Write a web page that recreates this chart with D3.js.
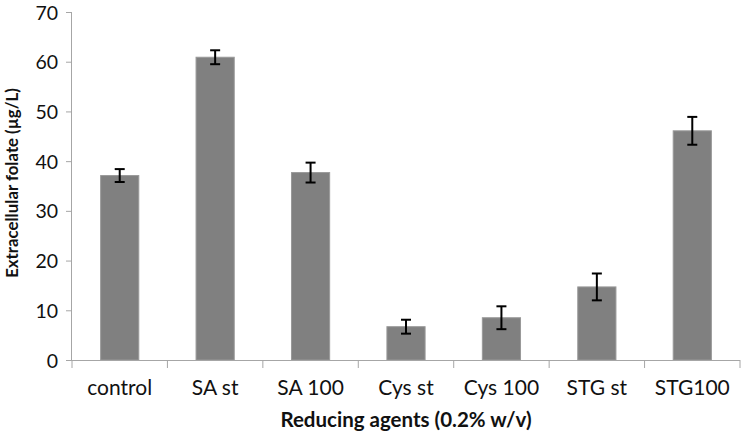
<!DOCTYPE html>
<html><head><meta charset="utf-8">
<script src="https://cdn.jsdelivr.net/npm/d3@7"></script>
<style>body{margin:0;background:#fff}svg{display:block}</style>
</head><body>
<svg id="c" width="742" height="434"></svg>
<script>
const categories = ["control","SA st","SA 100","Cys st","Cys 100","STG st","STG100"];
const values = [37.1, 60.9, 37.7, 6.7, 8.5, 14.7, 46.1];
const errors = [1.3, 1.4, 2.0, 1.4, 2.3, 2.7, 2.8];
const yTicks = [0,10,20,30,40,50,60,70];
const xTitle = "Reducing agents (0.2% w/v)";
const yTitle = "Extracellular folate (\u00b5g/L)";

const svg = d3.select("#c");
const font = "Lato, 'Open Sans', sans-serif";
const L = 72, R = 740, T = 12, B = 360;
const x = d3.scaleBand().domain(categories).range([L, R]).padding(0);
const y = d3.scaleLinear().domain([0,70]).range([B, T]);
const axisColor = "#a6a6a6";
const textColor = "#111";

// y axis
const ya = svg.append("g").attr("transform",`translate(${L},0)`)
  .call(d3.axisLeft(y).tickValues(yTicks).tickSize(6).tickPadding(8).tickFormat(d3.format("d")));
ya.select(".domain").attr("stroke",axisColor).attr("d",`M-0.5,${T}V${B}`);
ya.selectAll(".tick line").attr("stroke",axisColor);
ya.selectAll(".tick text").attr("fill",textColor).attr("dy","0.36em")
  .style("font-family",font).style("font-size","19.5px");

// bars
const bw = x.bandwidth()*0.4;
svg.append("g").selectAll("rect").data(categories).join("rect")
  .attr("x", d => x(d) + (x.bandwidth()-bw)/2)
  .attr("width", bw)
  .attr("y", (d,i) => y(values[i]))
  .attr("height", (d,i) => B - y(values[i]))
  .attr("fill","#808080").attr("stroke","#999999").attr("stroke-width",1);

// x axis
const xa = svg.append("g").attr("transform",`translate(0,${B})`)
  .call(d3.axisBottom(x).tickSize(0).tickPadding(0));
xa.select(".domain").attr("stroke",axisColor).attr("d",`M${L},0.5H${R}`);
xa.selectAll(".tick text").attr("fill",textColor).attr("dy",null).attr("y",35)
  .style("font-family",font).style("font-size","21px");
// boundary ticks
const bounds = categories.map(c => x(c)).concat([R]);
svg.append("g").selectAll("line").data(bounds).join("line")
  .attr("x1", d => d).attr("x2", d => d).attr("y1", B).attr("y2", B+8)
  .attr("stroke",axisColor);

// error bars
const eb = svg.append("g").attr("stroke","#000").attr("stroke-width",2);
categories.forEach((c,i) => {
  const cx = x(c) + x.bandwidth()/2;
  const y1 = y(values[i]+errors[i]), y2 = y(values[i]-errors[i]);
  eb.append("line").attr("x1",cx).attr("x2",cx).attr("y1",y1).attr("y2",y2);
  eb.append("line").attr("x1",cx-5).attr("x2",cx+5).attr("y1",y1).attr("y2",y1);
  eb.append("line").attr("x1",cx-5).attr("x2",cx+5).attr("y1",y2).attr("y2",y2);
});

// titles
svg.append("text").attr("x",406).attr("y",427).attr("text-anchor","middle")
  .style("font-family",font).style("font-size","20.5px").style("font-weight","bold").attr("fill",textColor)
  .text(xTitle);
svg.append("text").attr("transform","translate(17.5,183) rotate(-90)").attr("text-anchor","middle")
  .style("font-family",font).style("font-size","16.8px").style("font-weight","bold").attr("fill",textColor)
  .text(yTitle);
</script>
</body></html>
